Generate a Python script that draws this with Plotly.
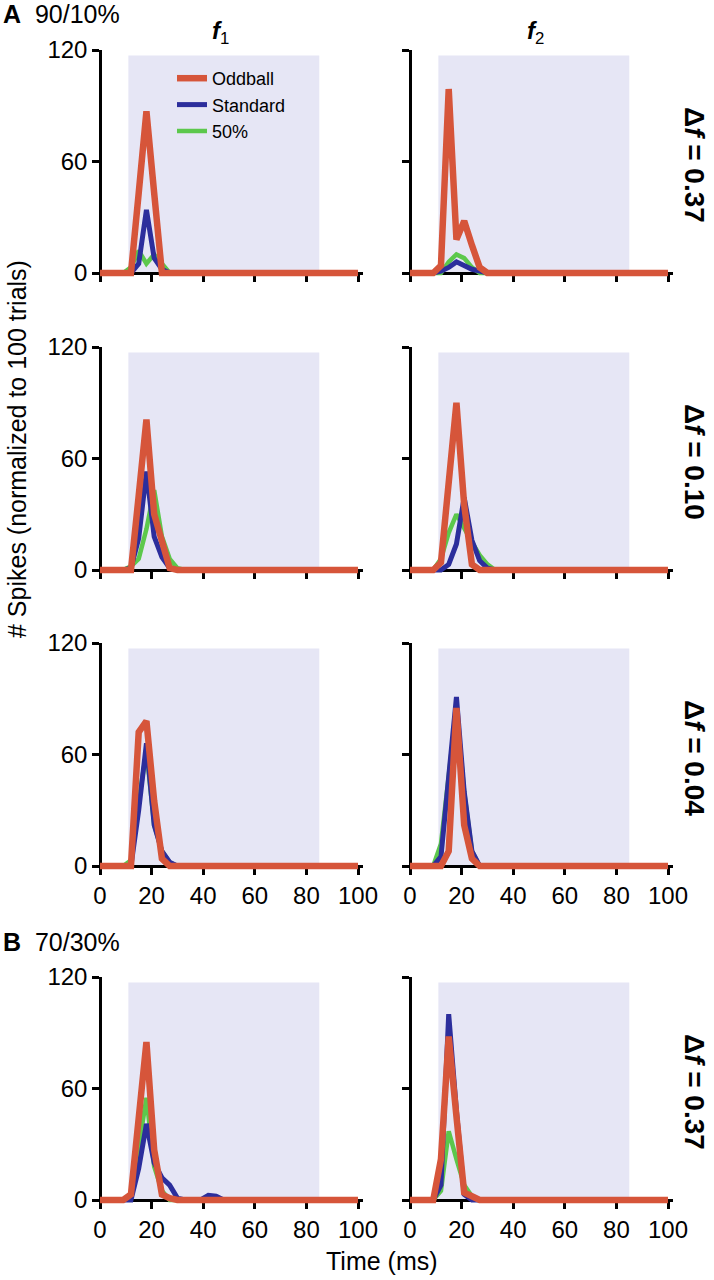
import plotly.graph_objects as go

# ---------------- data ----------------
TIME_MS = [0, 3, 6, 9, 12, 15, 18, 21, 24, 27, 30, 33, 36, 39, 42, 45, 48, 100]

# Panel A, delta f = 0.37
A037_F1_ODDBALL = [0, 0, 0, 0, 0, 43, 87, 43, 0, 0, 0, 0, 0, 0, 0, 0, 0, 0]
A037_F1_STANDARD = [0, 0, 0, 0, 0, 5, 34, 8, 2, 0, 0, 0, 0, 0, 0, 0, 0, 0]
A037_F1_FIFTY = [0, 0, 0, 0, 3, 12, 5, 10, 5, 0, 0, 0, 0, 0, 0, 0, 0, 0]
A037_F2_ODDBALL = [0, 0, 0, 0, 4, 99, 18, 28, 15, 3, 0, 0, 0, 0, 0, 0, 0, 0]
A037_F2_STANDARD = [0, 0, 0, 0, 1, 3, 6, 4, 2, 1, 0, 0, 0, 0, 0, 0, 0, 0]
A037_F2_FIFTY = [0, 0, 0, 0, 0, 6, 10, 8, 3, 0, 0, 0, 0, 0, 0, 0, 0, 0]

# Panel A, delta f = 0.10
A010_F1_ODDBALL = [0, 0, 0, 0, 0, 40, 81, 30, 14, 1, 0, 0, 0, 0, 0, 0, 0, 0]
A010_F1_STANDARD = [0, 0, 0, 0, 1, 17, 53, 18, 7, 1, 0, 0, 0, 0, 0, 0, 0, 0]
A010_F1_FIFTY = [0, 0, 0, 0, 2, 6, 22, 43, 18, 6, 1, 0, 0, 0, 0, 0, 0, 0]
A010_F2_ODDBALL = [0, 0, 0, 0, 4, 47, 90, 35, 3, 0, 0, 0, 0, 0, 0, 0, 0, 0]
A010_F2_STANDARD = [0, 0, 0, 0, 0, 3, 14, 39, 16, 5, 1, 0, 0, 0, 0, 0, 0, 0]
A010_F2_FIFTY = [0, 0, 0, 0, 6, 20, 30, 22, 15, 8, 3, 0, 0, 0, 0, 0, 0, 0]

# Panel A, delta f = 0.04
A004_F1_ODDBALL = [0, 0, 0, 0, 0, 72, 78, 35, 4, 0, 0, 0, 0, 0, 0, 0, 0, 0]
A004_F1_STANDARD = [0, 0, 0, 0, 0, 30, 66, 22, 8, 2, 0, 0, 0, 0, 0, 0, 0, 0]
A004_F1_FIFTY = [0, 0, 0, 0, 3, 35, 62, 22, 8, 2, 0, 0, 0, 0, 0, 0, 0, 0]
A004_F2_ODDBALL = [0, 0, 0, 0, 0, 8, 85, 22, 4, 0, 0, 0, 0, 0, 0, 0, 0, 0]
A004_F2_STANDARD = [0, 0, 0, 0, 5, 48, 91, 40, 8, 0, 0, 0, 0, 0, 0, 0, 0, 0]
A004_F2_FIFTY = [0, 0, 0, 0, 12, 50, 85, 40, 8, 0, 0, 0, 0, 0, 0, 0, 0, 0]

# Panel B (70/30%), delta f = 0.37
B037_F1_ODDBALL = [0, 0, 0, 0, 3, 42, 85, 27, 3, 1, 0, 0, 0, 0, 0, 0, 0, 0]
B037_F1_STANDARD = [0, 0, 0, 0, 0, 17, 41, 20, 12, 8, 1, 0, 0, 0, 2.5, 2, 0, 0]
B037_F1_FIFTY = [0, 0, 0, 0, 2, 28, 55, 18, 5, 0, 0, 0, 0, 0, 0, 0, 0, 0]
B037_F2_ODDBALL = [0, 0, 0, 0, 22, 88, 45, 4, 2, 0, 0, 0, 0, 0, 0, 0, 0, 0]
B037_F2_STANDARD = [0, 0, 0, 0, 8, 100, 48, 3, 0, 0, 0, 0, 0, 0, 0, 0, 0, 0]
B037_F2_FIFTY = [0, 0, 0, 0, 5, 37, 22, 8, 2, 0, 0, 0, 0, 0, 0, 0, 0, 0]

SERIES_NAMES = ["50%", "Standard", "Oddball"]
ROW_LABELS = ["0.37", "0.10", "0.04", "0.37"]
STIM_WINDOW_MS = [11, 85]
STIM_SHADE_TOP = 117
Y_TICKS = [0, 60, 120]
X_TICKS = [0, 20, 40, 60, 80, 100]

PANELS = [
    (A037_F1_FIFTY, A037_F1_STANDARD, A037_F1_ODDBALL),
    (A037_F2_FIFTY, A037_F2_STANDARD, A037_F2_ODDBALL),
    (A010_F1_FIFTY, A010_F1_STANDARD, A010_F1_ODDBALL),
    (A010_F2_FIFTY, A010_F2_STANDARD, A010_F2_ODDBALL),
    (A004_F1_FIFTY, A004_F1_STANDARD, A004_F1_ODDBALL),
    (A004_F2_FIFTY, A004_F2_STANDARD, A004_F2_ODDBALL),
    (B037_F1_FIFTY, B037_F1_STANDARD, B037_F1_ODDBALL),
    (B037_F2_FIFTY, B037_F2_STANDARD, B037_F2_ODDBALL),
]

# ---------------- style / layout ----------------
W, H = 714, 1280
COLORS = ["#5CC84C", "#2C2E9C", "#D6553A"]
WIDTHS = [4.5, 5, 6.5]
RANKS = [3, 2, 1]
SHADE = "#E6E6F5"
FONT = "Arial, Liberation Sans, sans-serif"


def fx(px):
    return px / W


def fy(py):
    return 1 - py / H


X_RANGE = [-2, 102]
Y_RANGE = [-3, 120]
PX_PER_MS = 2.58
PX_PER_UNIT = 223 / 120
COL_ZERO_PX = [100, 410]
ROW_ZERO_PX = [273, 570, 866, 1200]

fig = go.Figure()
layout_axes = {}
shapes = []

for p, series in enumerate(PANELS):
    row, col = divmod(p, 2)
    n = p + 1
    xa = "x" if n == 1 else f"x{n}"
    ya = "y" if n == 1 else f"y{n}"
    for s, vals in enumerate(series):
        fig.add_trace(go.Scatter(
            x=TIME_MS, y=vals, mode="lines", name=SERIES_NAMES[s],
            line=dict(color=COLORS[s], width=WIDTHS[s]),
            xaxis=xa, yaxis=ya, showlegend=(p == 0), legendrank=RANKS[s],
            hoverinfo="skip",
        ))
    x0 = COL_ZERO_PX[col]
    z = ROW_ZERO_PX[row]
    xdom = [fx(x0 + X_RANGE[0] * PX_PER_MS), fx(x0 + X_RANGE[1] * PX_PER_MS)]
    ydom = [fy(z - Y_RANGE[0] * PX_PER_UNIT), fy(z - Y_RANGE[1] * PX_PER_UNIT)]
    show_x_labels = row >= 2
    common = dict(
        showline=True, linecolor="black", linewidth=2.5,
        ticks="outside", ticklen=7, tickwidth=2.5, tickcolor="black",
        tickfont=dict(size=24, color="black", family=FONT),
        showgrid=False, zeroline=False, layer="below traces", fixedrange=True,
        automargin=False,
    )
    layout_axes["xaxis" if n == 1 else f"xaxis{n}"] = dict(
        domain=xdom, range=X_RANGE, anchor="free", position=fy(z),
        tickvals=X_TICKS, showticklabels=show_x_labels, **common,
    )
    layout_axes["yaxis" if n == 1 else f"yaxis{n}"] = dict(
        domain=ydom, range=Y_RANGE, anchor="free", position=fx(x0),
        tickvals=Y_TICKS, showticklabels=(col == 0), **common,
    )
    shapes.append(dict(
        type="rect", xref=xa, yref=ya, layer="below",
        x0=STIM_WINDOW_MS[0], x1=STIM_WINDOW_MS[1], y0=0, y1=STIM_SHADE_TOP,
        fillcolor=SHADE, line=dict(width=0),
    ))

annotations = [
    dict(text="<b>A</b>\u00a0\u00a090/10%", x=fx(1), y=fy(14), xanchor="left", yanchor="middle",
         font=dict(size=25)),
    dict(text="<b>B</b>\u00a0\u00a070/30%", x=fx(1), y=fy(942), xanchor="left", yanchor="middle",
         font=dict(size=25)),
    dict(text="<b><i>f</i></b><sub>1</sub>", x=fx(220), y=fy(33), xanchor="center", yanchor="middle",
         font=dict(size=24)),
    dict(text="<b><i>f</i></b><sub>2</sub>", x=fx(535), y=fy(33), xanchor="center", yanchor="middle",
         font=dict(size=24)),
    dict(text="# Spikes (normalized to 100 trials)", x=fx(17), y=fy(449), xanchor="center",
         yanchor="middle", textangle=-90, font=dict(size=25)),
    dict(text="Time (ms)", x=fx(382), y=fy(1261), xanchor="center", yanchor="middle",
         font=dict(size=25)),
]
for r, lab in enumerate(ROW_LABELS):
    zc = ROW_ZERO_PX[r] - 113
    annotations.append(dict(
        text=f"<b>\u0394<i>f</i> = {lab}</b>", x=fx(695), y=fy(zc + 5), xanchor="center",
        yanchor="middle", textangle=90, font=dict(size=28),
    ))
for a in annotations:
    a.update(xref="paper", yref="paper", showarrow=False)
    a["font"].update(color="black", family=FONT)

fig.update_layout(
    template="none",
    width=W, height=H, margin=dict(l=0, r=0, t=0, b=0, autoexpand=False),
    paper_bgcolor="white", plot_bgcolor="rgba(0,0,0,0)",
    font=dict(family=FONT, color="black"),
    shapes=shapes, annotations=annotations,
    showlegend=True,
    legend=dict(x=fx(172), y=fy(60), xanchor="left", yanchor="top",
                bgcolor="rgba(0,0,0,0)", font=dict(size=18, color="black", family=FONT),
                tracegroupgap=0, itemclick=False, itemdoubleclick=False),
    **layout_axes,
)

# remove the browser's default 8px body margin so the figure fills the window exactly
fig.write_html("out.html", config={"displayModeBar": False},
               post_script="document.body.style.margin='0px';")
